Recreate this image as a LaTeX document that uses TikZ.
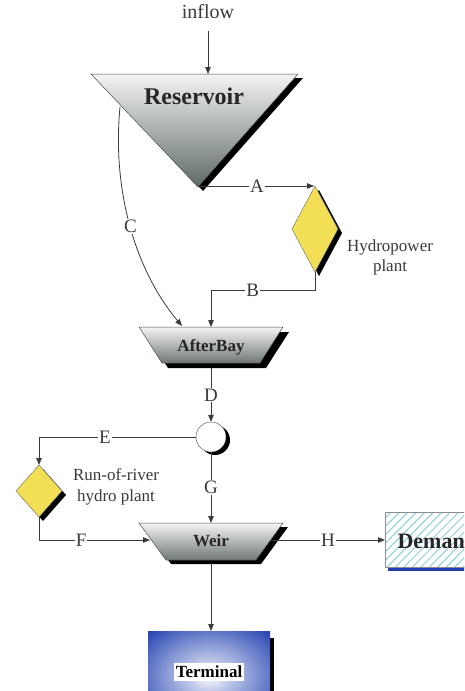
\documentclass[tikz,border=0pt]{standalone}
\usepackage{fontspec}
\setmainfont{Liberation Serif}
\usetikzlibrary{arrows.meta,patterns.meta,shadings}

\definecolor{linec}{HTML}{3A3A3A}
\definecolor{ylw}{HTML}{F2DF55}
\definecolor{resbot}{HTML}{5E6A69}
\definecolor{restop}{HTML}{F4F4F4}
\definecolor{trbot}{HTML}{6F7877}
\definecolor{tblue}{HTML}{1F3FB0}
\definecolor{hatch}{HTML}{8CCFDA}

\pgfdeclareradialshading{termglow}{\pgfpoint{0bp}{0bp}}{%
  color(0bp)=(white); color(9bp)=(white!70!tblue); color(36bp)=(tblue); color(50bp)=(tblue)}

\begin{document}
\begin{tikzpicture}[x=1pt,y=-1pt,
  conn/.style={draw=linec, line width=0.8pt},
  arr/.style={conn, -{Triangle[length=7pt,width=5.5pt]}},
  lbl/.style={fill=white, inner sep=1pt, text=linec, font=\fontsize{19}{19}\selectfont},
  note/.style={text=linec, align=center},
  shapetxt/.style={font=\bfseries\fontsize{17}{17}\selectfont, text=black!85},
  outl/.style={draw=black!70, line width=0.5pt},
]
\useasboundingbox (0,0) rectangle (464,691);
\clip (0,0) rectangle (464,691);

% ---------- inflow ----------
\node[font=\fontsize{20}{20}\selectfont, text=linec] (inflow) at (208,12) {inflow};
\coordinate (resTop) at (208,74);
\draw[arr, shorten <=8pt] (inflow.south) -- (resTop);

% ---------- Reservoir ----------
\fill[black] (96,78) -- (303,78) -- (203,191) -- cycle;
\shade[top color=restop, bottom color=resbot, outl] (91,74) -- (298,74) -- (198,187) -- cycle;
\node[font=\bfseries\fontsize{24}{24}\selectfont, text=black!85] (res) at (194,96) {Reservoir};
\coordinate (resApex) at (200,186);
\coordinate (resLeft) at (120,107);

% ---------- Hydropower plant ----------
\fill[black] (319,190) -- (342,233) -- (319,276) -- (296,233) -- cycle;
\filldraw[fill=ylw, draw=black!60] (315,186) -- (338,229) -- (315,272) -- (292,229) -- cycle;
\coordinate (hpTop) at (314,186);
\coordinate (hpBot) at (315,272);
\node[note, font=\fontsize{17}{20}\selectfont] (hpl) at (390,257) {Hydropower\\plant};

% ---------- AfterBay ----------
\fill[black] (145,332) -- (289,332) -- (266,368) -- (168,368) -- cycle;
\shade[top color=restop, bottom color=trbot, outl] (139,327) -- (283,327) -- (260,363) -- (162,363) -- cycle;
\node[shapetxt] (ab) at (211,347) {AfterBay};
\coordinate (abTop) at (211,327);
\coordinate (abC) at (182,326);
\coordinate (abBot) at (211,368);

% ---------- junction circle ----------
\fill[black] (215,440) circle (15);
\node[circle, draw=black!70, fill=white, minimum size=30pt, inner sep=0pt] (circ) at (211,437) {};

% ---------- Run-of-river plant ----------
\fill[black] (43,469) -- (66,495) -- (43,521) -- (20,495) -- cycle;
\filldraw[fill=ylw, draw=black!60] (39,465) -- (62,491) -- (39,517) -- (16,491) -- cycle;
\coordinate (rrTop) at (39,465);
\coordinate (rrBot) at (39,517);
\node[note, font=\fontsize{17}{21}\selectfont] (rrl) at (116,487) {Run-of-river\\hydro plant};

% ---------- Weir ----------
\fill[black] (144,527) -- (288,527) -- (261,564) -- (171,564) -- cycle;
\shade[top color=restop, bottom color=trbot, outl] (139,523) -- (283,523) -- (256,560) -- (166,560) -- cycle;
\node[shapetxt] (weir) at (211,541) {Weir};
\coordinate (weirTop) at (211,523);
\coordinate (weirLeft) at (150,540);
\coordinate (weirRight) at (271,540);
\coordinate (weirBot) at (211,564);

% ---------- Demand ----------
\fill[tblue] (388,566) rectangle (470,571);
\fill[white] (385,512) rectangle (470,567);
\fill[pattern={Lines[angle=45,distance=6pt,line width=1pt]}, pattern color=hatch] (385,512) rectangle (470,567);
\draw[black!45] (385,512) rectangle (470,567);
\node[font=\bfseries\fontsize{22}{22}\selectfont, anchor=west, text=black!85] (dem) at (394,541) {Demand};
\coordinate (demL) at (385,540);

% ---------- Terminal ----------
\fill[black] (266,638) rectangle (274,691);
\shade[shading=termglow] (148,631) rectangle (270,721);
\node[fill=white, inner xsep=1.5pt, inner ysep=3pt, font=\bfseries\fontsize{17}{17}\selectfont] (term) at (209,672) {Terminal};
\coordinate (termTop) at (211,631);

% ---------- connectors ----------
\draw[arr] (resApex) -- node[lbl]{A} (hpTop);
\draw[arr] (hpBot) -- ++(0,18) -| node[lbl, pos=0.3]{B} (abTop);
\draw[arr] (resLeft) .. controls (112,190) and (135,270) .. node[lbl, pos=0.5]{C} (abC);
\draw[arr] (abBot) -- node[lbl]{D} (circ.north);
\draw[arr] (circ.west) -| node[lbl, pos=0.29]{E} (rrTop);
\draw[arr] (rrBot) |- node[lbl, pos=0.69]{F} (weirLeft);
\draw[arr] (circ.south) -- node[lbl]{G} (weirTop);
\draw[arr] (weirRight) -- node[lbl]{H} (demL);
\draw[arr] (weirBot) -- (termTop);
\end{tikzpicture}
\end{document}
